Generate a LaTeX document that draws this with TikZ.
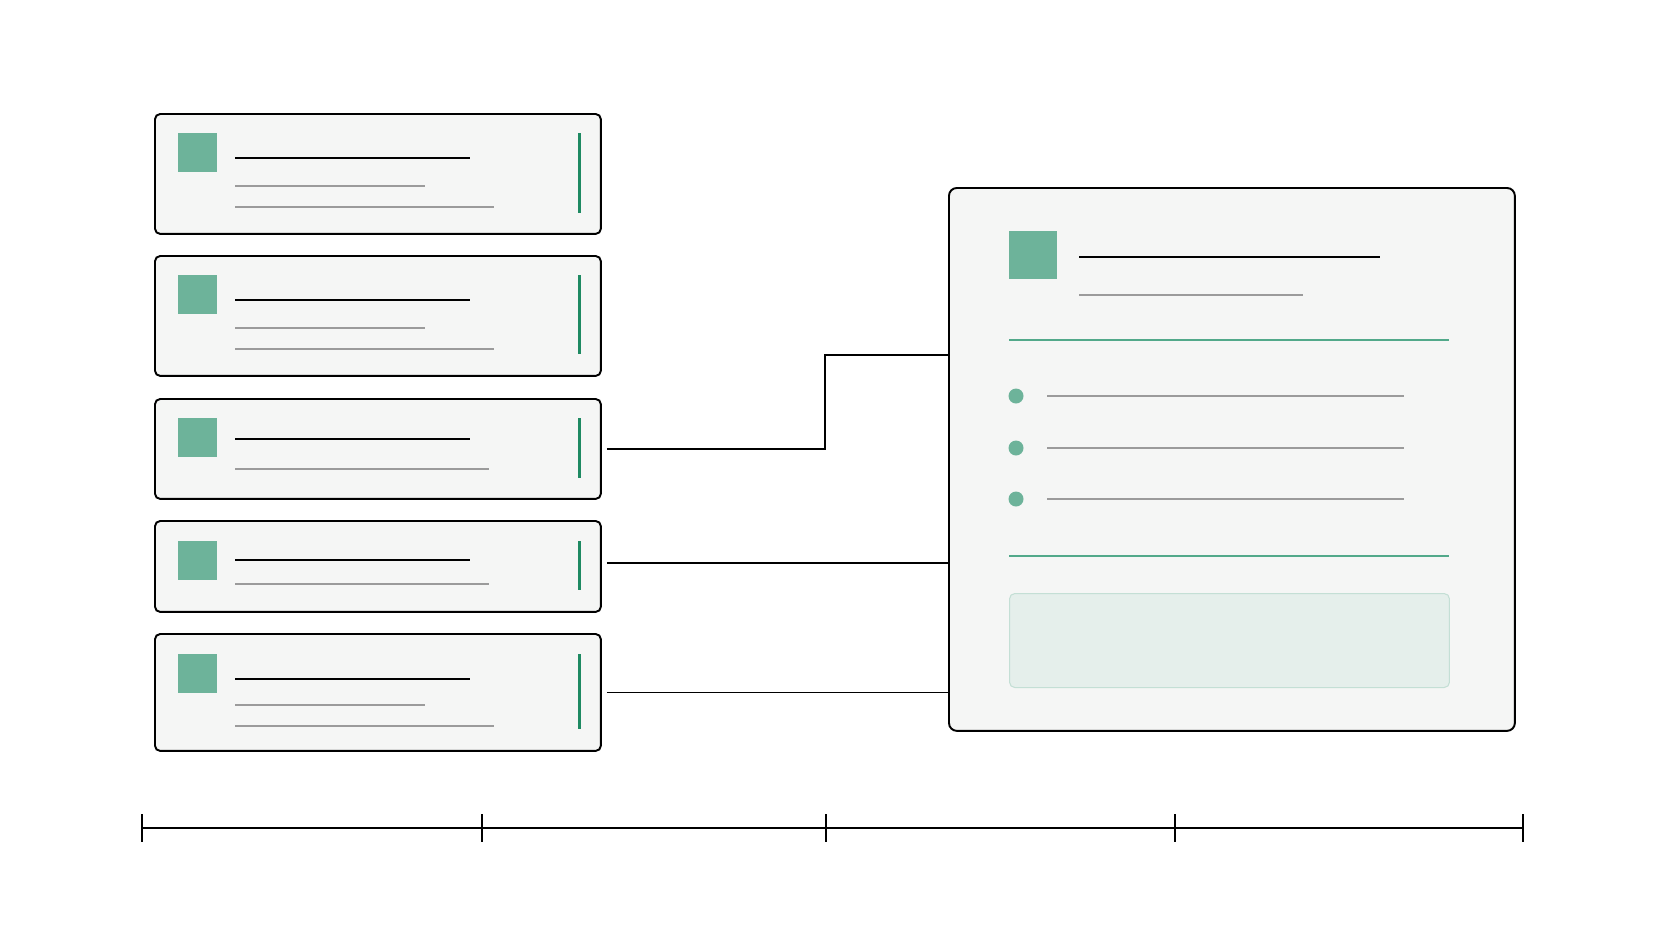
\documentclass[tikz,border=0pt]{standalone}
\usetikzlibrary{positioning}
\definecolor{cardbg}{HTML}{F5F6F5}
\definecolor{tealsq}{HTML}{6DB39A}
\definecolor{tealbar}{HTML}{1E8A62}
\definecolor{tealrule}{HTML}{52A98A}
\definecolor{softgray}{HTML}{9B9B9B}
\definecolor{notebg}{HTML}{E5EFEB}
\definecolor{noteedge}{HTML}{C4DFD5}
\begin{document}
\begin{tikzpicture}[x=0.02cm,y=-0.02cm,
        card/.style={draw=black,fill=cardbg,rounded corners=3pt,line width=1.1pt,
                     inner sep=0pt,minimum width=8.92cm,anchor=north west},
        thumb/.style={fill=tealsq,inner sep=0pt,minimum size=0.77cm},
        title line/.style={line width=1.1pt,black},
        text line/.style={line width=1.6pt,softgray},
        accent bar/.style={line width=1.7pt,tealbar},
        link/.style={line width=1.1pt,black,shorten <=2.8pt}]

        % Canvas
        \fill[white] (0,0) rectangle (1672,941);

        % Card stack
        \node[card,minimum height=2.40cm] (card1) at (154,113) {};
        \node[card,minimum height=2.40cm] (card2) at (154,255) {};
        \node[card,minimum height=2.00cm] (card3) at (154,398) {};
        \node[card,minimum height=1.82cm] (card4) at (154,520) {};
        \node[card,minimum height=2.34cm] (card5) at (154,633) {};

        \node[thumb,anchor=north west] (thumb1) at (178,133) {};
        \node[thumb,anchor=north west] (thumb2) at (178,275) {};
        \node[thumb,anchor=north west] (thumb3) at (178,418) {};
        \node[thumb,anchor=north west] (thumb4) at (178,541) {};
        \node[thumb,anchor=north west] (thumb5) at (178,654) {};

        \draw[title line] (235,158) -- (470,158);
        \draw[text line] (235,186) -- (425,186);
        \draw[text line] (235,207) -- (494,207);
        \draw[accent bar] (579,133) -- (579,213);

        \draw[title line] (235,300) -- (470,300);
        \draw[text line] (235,328) -- (425,328);
        \draw[text line] (235,349) -- (494,349);
        \draw[accent bar] (579,275) -- (579,354);

        \draw[title line] (235,439) -- (470,439);
        \draw[text line] (235,469) -- (489,469);
        \draw[accent bar] (579,418) -- (579,478);

        \draw[title line] (235,560) -- (470,560);
        \draw[text line] (235,584) -- (489,584);
        \draw[accent bar] (579,541) -- (579,590);

        \draw[title line] (235,679) -- (470,679);
        \draw[text line] (235,705) -- (425,705);
        \draw[text line] (235,726) -- (494,726);
        \draw[accent bar] (579,654) -- (579,729);

        % Detail panel
        \node[card,rounded corners=4.5pt,minimum width=11.32cm,minimum height=10.86cm] (panel) at (948,187) {};
        \node[thumb,anchor=north west,minimum size=0.96cm] (hero) at (1009,231) {};
        \draw[title line] (1079,257) -- (1380,257);
        \draw[text line] (1079,295) -- (1303,295);
        \draw[line width=1.6pt,tealrule] (1009,340) -- (1449,340);
        \fill[tealsq] (1016,396) circle (7.5);
        \fill[tealsq] (1016,448) circle (7.5);
        \fill[tealsq] (1016,499) circle (7.5);
        \draw[text line] (1047,396) -- (1404,396);
        \draw[text line] (1047,448) -- (1404,448);
        \draw[text line] (1047,499) -- (1404,499);
        \draw[line width=1.6pt,tealrule] (1009,556) -- (1449,556);
        \node[draw=noteedge,fill=notebg,rounded corners=3pt,line width=0.6pt,inner sep=0pt,
              minimum width=8.8cm,minimum height=1.88cm,anchor=north west] (note) at (1009,593) {};

        % Connectors
        \coordinate (elbow) at (825,355);
        \draw[link] (card3.east) -| (elbow) -- (elbow -| panel.west);
        \draw[link] ([yshift=0.07cm]card4.east) -- ([yshift=0.07cm]card4.east -| panel.west);
        \draw[link] (card5.east) -- (card5.east -| panel.west);

        % Timeline
        \coordinate (t0) at (142,828);
        \coordinate (t1) at (482,828);
        \coordinate (t2) at (826,828);
        \coordinate (t3) at (1175,828);
        \coordinate (t4) at (1523,828);
        \draw[line width=1.1pt] (t0) -- (t4);
        \foreach \t in {t0,t1,t2,t3,t4}
            \draw[line width=1.1pt] ([yshift=0.28cm]\t) -- ([yshift=-0.28cm]\t);
\end{tikzpicture}
\end{document}
